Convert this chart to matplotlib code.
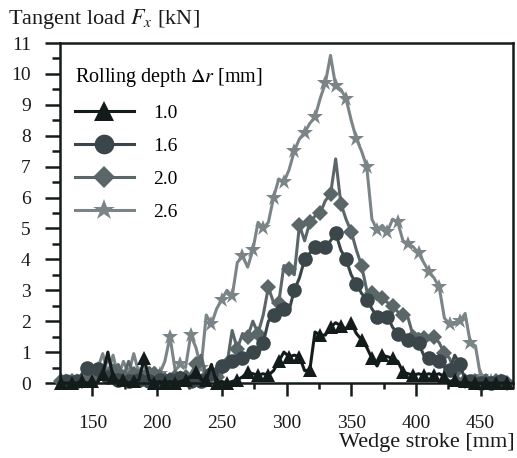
import matplotlib
matplotlib.use("Agg")
import matplotlib.pyplot as plt
from matplotlib.ticker import MultipleLocator

plt.rcParams["font.family"] = ["Liberation Serif", "DejaVu Serif"]
plt.rcParams["mathtext.fontset"] = "stix"

# wedge stroke grid [mm]
stroke = [126, 130, 134, 138, 142, 146, 150, 154, 158, 162,
          166, 170, 174, 178, 182, 186, 190, 194, 198, 202,
          206, 210, 214, 218, 222, 226, 230, 234, 238, 242,
          246, 250, 254, 258, 262, 266, 270, 274, 278, 282,
          286, 290, 294, 298, 302, 306, 310, 314, 318, 322,
          326, 330, 334, 338, 342, 346, 350, 354, 358, 362,
          366, 370, 374, 378, 382, 386, 390, 394, 398, 402,
          406, 410, 414, 418, 422, 426, 430, 434, 438, 442,
          446, 450, 454, 458, 462, 466, 470]

# tangent load [kN] for each rolling depth
load_10 = [0.0, 0.0, 0.0, 0.0, 0.05, 0.0, 0.05, 0.0, 0.3, 1.0,
           0.2, 0.05, 0.1, 0.0, 0.05, 0.1, 0.8, 0.1, 0.0, 0.05,
           0.0, 0.05, 0.0, 0.05, 0.1, 0.2, 0.35, 0.1, 0.1, 0.6,
           0.0, 0.05, 0.0, 0.05, 0.1, 0.2, 0.35, 0.3, 0.25, 0.3,
           0.25, 0.4, 0.7, 1.0, 0.85, 0.9, 0.85, 0.4, 0.42, 1.65,
           1.55, 1.55, 1.8, 1.95, 1.85, 1.75, 1.95, 1.6, 1.4, 1.15,
           0.8, 0.55, 0.9, 0.85, 0.8, 0.7, 0.35, 0.3, 0.25, 0.3,
           0.25, 0.3, 0.25, 0.3, 0.2, 0.05, 0.1, 0.0, 0.05, 0.0,
           0.0, 0.0, 0.0, 0.0, 0.0, 0.0, 0.0]
load_16 = [0.0, 0.05, 0.0, 0.05, 0.3, 0.5, 0.5, 0.45, 0.3, 0.2,
           0.3, 0.1, 0.2, 0.05, 0.15, 0.1, 0.2, 0.05, 0.15, 0.1,
           0.2, 0.1, 0.05, 0.15, 0.1, 0.05, 0.1, 0.05, 0.2, 0.3,
           0.5, 0.55, 0.6, 0.7, 0.6, 0.8, 0.9, 1.0, 0.9, 1.3,
           2.0, 2.2, 2.5, 2.4, 2.35, 3.0, 3.4, 4.0, 4.2, 4.4,
           4.4, 4.4, 4.6, 4.85, 4.3, 4.0, 3.5, 3.2, 2.9, 2.7,
           2.4, 2.15, 2.2, 2.15, 1.8, 1.6, 1.5, 1.4, 1.35, 1.3,
           0.9, 0.8, 0.75, 0.7, 0.5, 0.42, 0.9, 0.6, 0.1, 0.05,
           0.0, 0.0, 0.05, 0.0, 0.0, 0.05, 0.0]
load_20 = [0.05, 0.0, 0.05, 0.0, 0.05, 0.1, 0.2, 0.5, 0.3, 0.8,
           0.4, 0.6, 0.2, 0.7, 0.3, 0.4, 0.2, 0.5, 0.3, 0.4,
           0.1, 0.3, 0.2, 0.35, 0.2, 0.3, 0.6, 0.9, 0.2, 0.1,
           0.2, 0.3, 0.6, 1.7, 1.1, 1.6, 1.5, 2.0, 1.6, 2.2,
           3.1, 2.6, 2.6, 3.8, 3.7, 3.5, 5.1, 4.6, 5.2, 5.4,
           5.5, 5.9, 6.1, 7.25, 5.8, 5.3, 4.9, 4.3, 3.8, 3.0,
           2.9, 2.7, 2.75, 2.6, 2.5, 2.3, 2.2, 2.1, 1.5, 1.6,
           1.45, 1.4, 1.5, 1.3, 0.97, 0.8, 0.35, 0.1, 0.05, 0.0,
           0.05, 0.0, 0.05, 0.1, 0.05, 0.0, 0.0]
load_26 = [0.05, 0.05, 0.0, 0.05, 0.1, 0.15, 0.1, 0.45, 0.95, 0.3,
           0.9, 0.2, 0.7, 0.3, 0.95, 0.3, 0.6, 0.1, 0.5, 0.3,
           0.7, 1.5, 0.4, 0.6, 0.5, 1.55, 1.15, 0.5, 2.2, 1.9,
           2.4, 2.7, 3.0, 2.8, 3.9, 4.1, 3.75, 4.3, 5.2, 5.0,
           5.2, 6.0, 6.6, 6.5, 6.9, 7.5, 7.9, 8.1, 8.4, 8.6,
           9.2, 9.7, 10.6, 9.6, 9.5, 9.2, 8.5, 7.9, 7.5, 7.0,
           5.3, 4.95, 5.1, 4.9, 5.3, 5.2, 4.6, 4.5, 4.4, 4.2,
           3.9, 3.6, 3.4, 3.1, 2.1, 1.9, 1.9, 2.0, 2.25, 1.3,
           1.2, 0.2, 0.1, 0.05, 0.1, 0.05, 0.05]

depth_labels = ["1.0", "1.6", "2.0", "2.6"]
colors = ["#141c1b", "#3a4649", "#5b6669", "#7b8588"]

fig = plt.figure(figsize=(5.17, 4.58), dpi=100)
ax = fig.add_axes([60 / 517, 1 - 383 / 458, 453 / 517, 340 / 458])

# lightest series first so the darker ones sit on top
series = [
    (load_26, depth_labels[3], colors[3], "*", 12, 1),
    (load_20, depth_labels[2], colors[2], "D", 8, 0),
    (load_16, depth_labels[1], colors[1], "o", 10.5, 1),
    (load_10, depth_labels[0], colors[0], "^", 10.5, 0),
]
handles = {}
for vals, lab, col, mk, ms, start in series:
    (ln,) = ax.plot(stroke, vals, color=col, lw=2.2, marker=mk, ms=ms,
                    markevery=(start, 2), label=lab, clip_on=False,
                    markeredgewidth=0)
    handles[lab] = ln

ax.set_xlim(125, 475)
ax.set_ylim(0, 11)
ax.xaxis.set_major_locator(MultipleLocator(50))
ax.xaxis.set_minor_locator(MultipleLocator(25))
ax.yaxis.set_major_locator(MultipleLocator(1))
ax.yaxis.set_minor_locator(MultipleLocator(0.5))
ax.set_xticks([150, 200, 250, 300, 350, 400, 450])
ax.tick_params(axis="both", which="both", direction="out", width=1.8,
               colors="#141c1b", labelcolor="#1a1a1a", labelsize=14)
ax.tick_params(axis="y", which="major", length=11, pad=10)
ax.tick_params(axis="y", which="minor", length=5.5)
ax.tick_params(axis="x", which="major", length=9, pad=14)
ax.tick_params(axis="x", which="minor", length=4.5)
for sp in ax.spines.values():
    sp.set_linewidth(1.8)
    sp.set_color("#141c1b")

fig.text(8 / 517, 1 - 19 / 458, r"Tangent load $F_x$ [kN]", fontsize=16,
         ha="left", va="center", color="#1a1a1a")
fig.text(515 / 517, 1 - 443 / 458, "Wedge stroke [mm]", fontsize=16,
         ha="right", va="center", color="#1a1a1a")

leg = ax.legend([handles[l] for l in depth_labels], depth_labels,
                title=r"Rolling depth $\Delta r$ [mm]", loc="upper left",
                bbox_to_anchor=(-0.005, 0.985), frameon=False, fontsize=14,
                title_fontsize=14.5, handlelength=3.0, handletextpad=1.0,
                labelspacing=0.8, markerscale=1.35, alignment="left")
# one marker in the middle of each legend line
for lh in leg.legend_handles:
    lh.set_markevery([1])

fig.savefig("out.png", dpi=100)
